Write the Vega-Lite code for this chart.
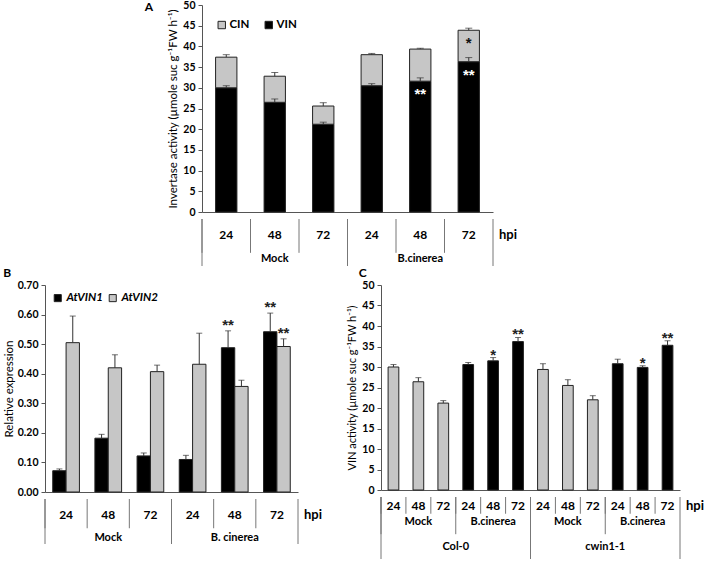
{
  "$schema": "https://vega.github.io/schema/vega-lite/v6.json",
  "padding": {"left": 3, "top": 0, "right": 3, "bottom": 0},
  "background": "white",
  "config": {
    "view": {"stroke": null},
    "font": "Lato",
    "axis": {"grid": false, "labelOverlap": false, "domainColor": "#555", "tickColor": "#555", "labelColor": "#000", "labelFont": "Lato", "labelFontWeight": "bold", "labelFontSize": 10.5, "tickSize": 4, "labelPadding": 3, "titleFont": "Lato", "titleFontWeight": "normal", "titleFontSize": 11.5, "titleColor": "#000", "titlePadding": 4},
    "title": {"font": "Lato", "fontSize": 12, "fontWeight": "bold", "anchor": "start", "color": "#000"},
    "text": {"font": "Lato", "color": "#000"}
  },
  "datasets": {
    "a": [
      {"cond": "Mock 24", "trt": "Mock", "hour": "24", "type": "VIN", "val": 30.0, "err": 0.5, "sig": ""},
      {"cond": "Mock 24", "trt": "Mock", "hour": "24", "type": "CIN", "val": 7.4, "err": 0.6, "sig": ""},
      {"cond": "Mock 48", "trt": "Mock", "hour": "48", "type": "VIN", "val": 26.5, "err": 0.8, "sig": ""},
      {"cond": "Mock 48", "trt": "Mock", "hour": "48", "type": "CIN", "val": 6.3, "err": 0.9, "sig": ""},
      {"cond": "Mock 72", "trt": "Mock", "hour": "72", "type": "VIN", "val": 21.2, "err": 0.5, "sig": ""},
      {"cond": "Mock 72", "trt": "Mock", "hour": "72", "type": "CIN", "val": 4.4, "err": 0.8, "sig": ""},
      {"cond": "B.cinerea 24", "trt": "B.cinerea", "hour": "24", "type": "VIN", "val": 30.5, "err": 0.5, "sig": ""},
      {"cond": "B.cinerea 24", "trt": "B.cinerea", "hour": "24", "type": "CIN", "val": 7.5, "err": 0.3, "sig": ""},
      {"cond": "B.cinerea 48", "trt": "B.cinerea", "hour": "48", "type": "VIN", "val": 31.6, "err": 0.8, "sig": "**"},
      {"cond": "B.cinerea 48", "trt": "B.cinerea", "hour": "48", "type": "CIN", "val": 7.75, "err": 0.2, "sig": ""},
      {"cond": "B.cinerea 72", "trt": "B.cinerea", "hour": "72", "type": "VIN", "val": 36.3, "err": 1.0, "sig": "**"},
      {"cond": "B.cinerea 72", "trt": "B.cinerea", "hour": "72", "type": "CIN", "val": 7.6, "err": 0.5, "sig": "*"}
    ],
    "b": [
      {"cond": "Mock 24", "trt": "Mock", "hour": "24", "gene": "AtVIN1", "val": 0.072, "err": 0.006, "sig": ""},
      {"cond": "Mock 24", "trt": "Mock", "hour": "24", "gene": "AtVIN2", "val": 0.505, "err": 0.09, "sig": ""},
      {"cond": "Mock 48", "trt": "Mock", "hour": "48", "gene": "AtVIN1", "val": 0.182, "err": 0.013, "sig": ""},
      {"cond": "Mock 48", "trt": "Mock", "hour": "48", "gene": "AtVIN2", "val": 0.42, "err": 0.044, "sig": ""},
      {"cond": "Mock 72", "trt": "Mock", "hour": "72", "gene": "AtVIN1", "val": 0.122, "err": 0.01, "sig": ""},
      {"cond": "Mock 72", "trt": "Mock", "hour": "72", "gene": "AtVIN2", "val": 0.407, "err": 0.022, "sig": ""},
      {"cond": "B. cinerea 24", "trt": "B. cinerea", "hour": "24", "gene": "AtVIN1", "val": 0.11, "err": 0.014, "sig": ""},
      {"cond": "B. cinerea 24", "trt": "B. cinerea", "hour": "24", "gene": "AtVIN2", "val": 0.432, "err": 0.105, "sig": ""},
      {"cond": "B. cinerea 48", "trt": "B. cinerea", "hour": "48", "gene": "AtVIN1", "val": 0.488, "err": 0.057, "sig": "**"},
      {"cond": "B. cinerea 48", "trt": "B. cinerea", "hour": "48", "gene": "AtVIN2", "val": 0.357, "err": 0.021, "sig": ""},
      {"cond": "B. cinerea 72", "trt": "B. cinerea", "hour": "72", "gene": "AtVIN1", "val": 0.542, "err": 0.063, "sig": "**"},
      {"cond": "B. cinerea 72", "trt": "B. cinerea", "hour": "72", "gene": "AtVIN2", "val": 0.492, "err": 0.026, "sig": "**"}
    ],
    "c": [
      {"cond": "Col-0 Mock 24", "geno": "Col-0", "trt": "Mock", "hour": "24", "val": 30.0, "err": 0.6, "sig": ""},
      {"cond": "Col-0 Mock 48", "geno": "Col-0", "trt": "Mock", "hour": "48", "val": 26.4, "err": 1.0, "sig": ""},
      {"cond": "Col-0 Mock 72", "geno": "Col-0", "trt": "Mock", "hour": "72", "val": 21.2, "err": 0.6, "sig": ""},
      {"cond": "Col-0 B.cinerea 24", "geno": "Col-0", "trt": "B.cinerea", "hour": "24", "val": 30.6, "err": 0.5, "sig": ""},
      {"cond": "Col-0 B.cinerea 48", "geno": "Col-0", "trt": "B.cinerea", "hour": "48", "val": 31.5, "err": 0.8, "sig": "*"},
      {"cond": "Col-0 B.cinerea 72", "geno": "Col-0", "trt": "B.cinerea", "hour": "72", "val": 36.2, "err": 1.0, "sig": "**"},
      {"cond": "cwin1-1 Mock 24", "geno": "cwin1-1", "trt": "Mock", "hour": "24", "val": 29.4, "err": 1.4, "sig": ""},
      {"cond": "cwin1-1 Mock 48", "geno": "cwin1-1", "trt": "Mock", "hour": "48", "val": 25.5, "err": 1.4, "sig": ""},
      {"cond": "cwin1-1 Mock 72", "geno": "cwin1-1", "trt": "Mock", "hour": "72", "val": 22.0, "err": 1.0, "sig": ""},
      {"cond": "cwin1-1 B.cinerea 24", "geno": "cwin1-1", "trt": "B.cinerea", "hour": "24", "val": 30.8, "err": 1.1, "sig": ""},
      {"cond": "cwin1-1 B.cinerea 48", "geno": "cwin1-1", "trt": "B.cinerea", "hour": "48", "val": 29.9, "err": 0.4, "sig": "*"},
      {"cond": "cwin1-1 B.cinerea 72", "geno": "cwin1-1", "trt": "B.cinerea", "hour": "72", "val": 35.3, "err": 1.1, "sig": "**"}
    ]
  },
  "spacing": 0,
  "resolve": {"scale": {"x": "independent", "y": "independent", "color": "independent", "xOffset": "independent"}},
  "vconcat": [
    {
      "spacing": 0,
      "resolve": {"scale": {"x": "independent", "y": "independent", "color": "independent"}},
      "hconcat": [
        {"width": 99, "height": 10, "data": {"values": []}, "mark": "point"},
        {
          "spacing": 0,
          "resolve": {"scale": {"x": "shared", "y": "independent"}},
          "vconcat": [
            {
              "width": 291, "height": 207,
              "data": {"name": "a"},
              "title": {"text": "A", "offset": -14, "dx": -23},
              "transform": [
                {"stack": "val", "groupby": ["cond"], "sort": [{"field": "type", "order": "descending"}], "as": ["v0", "v1"]},
                {"calculate": "datum.v1 + datum.err", "as": "hi"}
              ],
              "encoding": {"x": {"field": "cond", "type": "nominal", "sort": null, "scale": {"paddingInner": 0, "paddingOuter": 0}, "axis": {"labels": false, "ticks": false, "title": null}}},
              "layer": [
                {
                  "mark": {"type": "bar", "stroke": "#222", "strokeWidth": 1, "width": {"band": 0.44}},
                  "encoding": {
                    "y": {"field": "v0", "type": "quantitative", "scale": {"domain": [0, 50]}, "axis": {"values": [0, 5, 10, 15, 20, 25, 30, 35, 40, 45, 50], "labelOverlap": false, "title": "Invertase activity (µmole suc g⁻¹FW h⁻¹)"}},
                    "y2": {"field": "v1"},
                    "color": {"field": "type", "type": "nominal", "scale": {"domain": ["CIN", "VIN"], "range": ["#c6c6c6", "#000000"]},
                      "legend": {"title": null, "orient": "top-left", "direction": "horizontal", "offset": 14, "padding": 0, "symbolType": "square", "symbolSize": 55, "symbolStrokeColor": "#222", "symbolStrokeWidth": 1, "labelFontSize": 11.5, "labelFontWeight": "bold", "labelFont": "Lato", "labelColor": "#000", "labelOffset": 2, "columnPadding": 13}}
                  }
                },
                {"mark": {"type": "rule", "color": "#333", "strokeWidth": 1}, "encoding": {"y": {"field": "v1", "type": "quantitative", "axis": {"values": [0, 5, 10, 15, 20, 25, 30, 35, 40, 45, 50], "labelOverlap": false, "title": "Invertase activity (µmole suc g⁻¹FW h⁻¹)"}}, "y2": {"field": "hi"}}},
                {"mark": {"type": "tick", "color": "#333", "thickness": 1, "size": 7}, "encoding": {"y": {"field": "hi", "type": "quantitative", "axis": {"values": [0, 5, 10, 15, 20, 25, 30, 35, 40, 45, 50], "labelOverlap": false, "title": "Invertase activity (µmole suc g⁻¹FW h⁻¹)"}}}},
                {
                  "transform": [{"filter": "datum.sig !== ''"}],
                  "mark": {"type": "text", "font": "Liberation Sans", "fontSize": 15, "fontWeight": "bold", "baseline": "middle", "dy": 13},
                  "encoding": {"y": {"field": "v1", "type": "quantitative", "axis": {"values": [0, 5, 10, 15, 20, 25, 30, 35, 40, 45, 50], "labelOverlap": false, "title": "Invertase activity (µmole suc g⁻¹FW h⁻¹)"}}, "text": {"field": "sig"}, "color": {"condition": {"test": "datum.type === 'VIN'", "value": "white"}, "value": "#111"}}
                }
              ]
            },
            {
              "width": 291, "height": 47,
              "data": {"name": "a"},
              "transform": [{"filter": "datum.type === 'VIN'"}],
              "encoding": {"x": {"field": "cond", "type": "nominal", "sort": null, "scale": {"paddingInner": 0, "paddingOuter": 0}, "axis": null}},
              "layer": [
                {"mark": {"type": "rule", "color": "#777"}, "encoding": {"x": {"field": "cond", "type": "nominal", "sort": null, "bandPosition": 0}, "y": {"datum": 0, "type": "quantitative", "scale": {"domain": [0, 1], "reverse": true}, "axis": null}, "y2": {"datum": 0.72}}},
                {"transform": [{"filter": "datum.hour === '24'"}], "mark": {"type": "rule", "color": "#777"}, "encoding": {"x": {"field": "cond", "type": "nominal", "sort": null, "bandPosition": 0}, "y": {"datum": 0, "type": "quantitative"}, "y2": {"datum": 1}}},
                {"transform": [{"filter": "datum.cond === 'B.cinerea 72'"}], "mark": {"type": "rule", "color": "#777"}, "encoding": {"x": {"field": "cond", "type": "nominal", "sort": null, "bandPosition": 1}, "y": {"datum": 0, "type": "quantitative"}, "y2": {"datum": 1}}},
                {"mark": {"type": "text", "fontSize": 12, "fontWeight": "bold", "baseline": "middle"}, "encoding": {"y": {"datum": 0.34, "type": "quantitative"}, "text": {"field": "hour"}}},
                {"transform": [{"filter": "datum.hour === '48'"}], "mark": {"type": "text", "fontSize": 11, "fontWeight": "bold", "baseline": "middle"}, "encoding": {"y": {"datum": 0.86, "type": "quantitative"}, "text": {"field": "trt"}}},
                {"transform": [{"filter": "datum.cond === 'B.cinerea 72'"}], "mark": {"type": "text", "fontSize": 13, "fontWeight": "bold", "baseline": "middle", "align": "left", "dx": 6}, "encoding": {"x": {"field": "cond", "type": "nominal", "sort": null, "bandPosition": 1}, "y": {"datum": 0.34, "type": "quantitative"}, "text": {"value": "hpi"}}}
              ]
            }
          ]
        }
      ]
    },
    {
      "spacing": 23,
      "resolve": {"scale": {"x": "independent", "y": "independent", "color": "independent", "xOffset": "independent"}},
      "hconcat": [
        {
          "spacing": 0,
          "resolve": {"scale": {"x": "shared", "y": "independent"}},
          "vconcat": [
            {
              "width": 253, "height": 207,
              "data": {"name": "b"},
              "title": {"text": "B", "offset": 0},
              "transform": [{"calculate": "datum.val + datum.err", "as": "hi"}],
              "encoding": {
                "x": {"field": "cond", "type": "nominal", "sort": null, "scale": {"paddingInner": 0, "paddingOuter": 0}, "axis": {"labels": false, "ticks": false, "title": null}},
                "xOffset": {"field": "gene", "type": "nominal", "scale": {"paddingOuter": 0.58, "paddingInner": 0}}
              },
              "layer": [
                {
                  "mark": {"type": "bar", "stroke": "#222", "strokeWidth": 1},
                  "encoding": {
                    "y": {"field": "val", "type": "quantitative", "scale": {"domain": [0, 0.7]}, "axis": {"values": [0, 0.1, 0.2, 0.3, 0.4, 0.5, 0.6, 0.7], "labelOverlap": false, "format": ".2f", "title": "Relative expression", "titlePadding": 3}},
                    "color": {"field": "gene", "type": "nominal", "scale": {"domain": ["AtVIN1", "AtVIN2"], "range": ["#000000", "#c6c6c6"]},
                      "legend": {"title": null, "orient": "top-left", "direction": "horizontal", "offset": 7, "padding": 0, "symbolType": "square", "symbolSize": 50, "symbolStrokeColor": "#222", "symbolStrokeWidth": 1, "labelFontSize": 11.5, "labelFontWeight": "bold", "labelFontStyle": "italic", "labelFont": "Lato", "labelColor": "#000", "labelOffset": 3, "columnPadding": 4}}
                  }
                },
                {"mark": {"type": "rule", "color": "#333", "strokeWidth": 1}, "encoding": {"y": {"field": "val", "type": "quantitative", "axis": {"values": [0, 0.1, 0.2, 0.3, 0.4, 0.5, 0.6, 0.7], "labelOverlap": false, "format": ".2f", "title": "Relative expression", "titlePadding": 3}}, "y2": {"field": "hi"}}},
                {"mark": {"type": "tick", "color": "#333", "thickness": 1, "size": 6}, "encoding": {"y": {"field": "hi", "type": "quantitative", "axis": {"values": [0, 0.1, 0.2, 0.3, 0.4, 0.5, 0.6, 0.7], "labelOverlap": false, "format": ".2f", "title": "Relative expression", "titlePadding": 3}}}},
                {
                  "transform": [{"filter": "datum.sig !== ''"}],
                  "mark": {"type": "text", "font": "Liberation Sans", "fontSize": 15, "fontWeight": "bold", "baseline": "bottom", "dy": 2, "color": "#222"},
                  "encoding": {"y": {"field": "hi", "type": "quantitative", "axis": {"values": [0, 0.1, 0.2, 0.3, 0.4, 0.5, 0.6, 0.7], "labelOverlap": false, "format": ".2f", "title": "Relative expression", "titlePadding": 3}}, "text": {"field": "sig"}}
                }
              ]
            },
            {
              "width": 253, "height": 45,
              "data": {"name": "b"},
              "transform": [{"filter": "datum.gene === 'AtVIN1'"}],
              "encoding": {"x": {"field": "cond", "type": "nominal", "sort": null, "scale": {"paddingInner": 0, "paddingOuter": 0}, "axis": null}},
              "layer": [
                {"mark": {"type": "rule", "color": "#777"}, "encoding": {"x": {"field": "cond", "type": "nominal", "sort": null, "bandPosition": 0}, "y": {"datum": 0, "type": "quantitative", "scale": {"domain": [0, 1], "reverse": true}, "axis": null}, "y2": {"datum": 0.65}}},
                {"transform": [{"filter": "datum.hour === '24'"}], "mark": {"type": "rule", "color": "#777"}, "encoding": {"x": {"field": "cond", "type": "nominal", "sort": null, "bandPosition": 0}, "y": {"datum": 0, "type": "quantitative"}, "y2": {"datum": 1}}},
                {"transform": [{"filter": "datum.cond === 'B. cinerea 72'"}], "mark": {"type": "rule", "color": "#777"}, "encoding": {"x": {"field": "cond", "type": "nominal", "sort": null, "bandPosition": 1}, "y": {"datum": 0, "type": "quantitative"}, "y2": {"datum": 1}}},
                {"mark": {"type": "text", "fontSize": 12, "fontWeight": "bold", "baseline": "middle"}, "encoding": {"y": {"datum": 0.35, "type": "quantitative"}, "text": {"field": "hour"}}},
                {"transform": [{"filter": "datum.hour === '48'"}], "mark": {"type": "text", "fontSize": 11, "fontWeight": "bold", "baseline": "middle"}, "encoding": {"y": {"datum": 0.86, "type": "quantitative"}, "text": {"field": "trt"}}},
                {"transform": [{"filter": "datum.cond === 'B. cinerea 72'"}], "mark": {"type": "text", "fontSize": 13, "fontWeight": "bold", "baseline": "middle", "align": "left", "dx": 6}, "encoding": {"x": {"field": "cond", "type": "nominal", "sort": null, "bandPosition": 1}, "y": {"datum": 0.35, "type": "quantitative"}, "text": {"value": "hpi"}}}
              ]
            }
          ]
        },
        {
          "spacing": 0,
          "resolve": {"scale": {"x": "shared", "y": "independent"}},
          "vconcat": [
            {
              "width": 299, "height": 205,
              "data": {"name": "c"},
              "title": {"text": "C", "offset": 0, "dx": 12},
              "transform": [{"calculate": "datum.val + datum.err", "as": "hi"}],
              "encoding": {"x": {"field": "cond", "type": "nominal", "sort": null, "scale": {"paddingInner": 0, "paddingOuter": 0}, "axis": {"labels": false, "ticks": false, "title": null}}},
              "layer": [
                {
                  "mark": {"type": "bar", "stroke": "#222", "strokeWidth": 1, "width": {"band": 0.43}},
                  "encoding": {
                    "y": {"field": "val", "type": "quantitative", "scale": {"domain": [0, 50]}, "axis": {"values": [0, 5, 10, 15, 20, 25, 30, 35, 40, 45, 50], "labelOverlap": false, "title": "VIN activity (µmole suc g⁻¹FW h⁻¹)", "titleFontSize": 11}},
                    "color": {"field": "trt", "type": "nominal", "scale": {"domain": ["Mock", "B.cinerea"], "range": ["#c6c6c6", "#000000"]}, "legend": null}
                  }
                },
                {"mark": {"type": "rule", "color": "#333", "strokeWidth": 1}, "encoding": {"y": {"field": "val", "type": "quantitative", "axis": {"values": [0, 5, 10, 15, 20, 25, 30, 35, 40, 45, 50], "labelOverlap": false, "title": "VIN activity (µmole suc g⁻¹FW h⁻¹)", "titleFontSize": 11}}, "y2": {"field": "hi"}}},
                {"mark": {"type": "tick", "color": "#333", "thickness": 1, "size": 6}, "encoding": {"y": {"field": "hi", "type": "quantitative", "axis": {"values": [0, 5, 10, 15, 20, 25, 30, 35, 40, 45, 50], "labelOverlap": false, "title": "VIN activity (µmole suc g⁻¹FW h⁻¹)", "titleFontSize": 11}}}},
                {
                  "transform": [{"filter": "datum.sig !== ''"}],
                  "mark": {"type": "text", "font": "Liberation Sans", "fontSize": 15, "fontWeight": "bold", "baseline": "bottom", "dy": 5, "color": "#222"},
                  "encoding": {"y": {"field": "hi", "type": "quantitative", "axis": {"values": [0, 5, 10, 15, 20, 25, 30, 35, 40, 45, 50], "labelOverlap": false, "title": "VIN activity (µmole suc g⁻¹FW h⁻¹)", "titleFontSize": 11}}, "text": {"field": "sig"}}
                }
              ]
            },
            {
              "width": 299, "height": 62,
              "data": {"name": "c"},
              "encoding": {"x": {"field": "cond", "type": "nominal", "sort": null, "scale": {"paddingInner": 0, "paddingOuter": 0}, "axis": null}},
              "layer": [
                {"mark": {"type": "rule", "color": "#777"}, "encoding": {"x": {"field": "cond", "type": "nominal", "sort": null, "bandPosition": 0}, "y": {"datum": 0, "type": "quantitative", "scale": {"domain": [0, 1], "reverse": true}, "axis": null}, "y2": {"datum": 0.27}}},
                {"transform": [{"filter": "datum.hour === '24'"}], "mark": {"type": "rule", "color": "#777"}, "encoding": {"x": {"field": "cond", "type": "nominal", "sort": null, "bandPosition": 0}, "y": {"datum": 0, "type": "quantitative"}, "y2": {"datum": 0.6}}},
                {"transform": [{"filter": "datum.hour === '24' && datum.trt === 'Mock'"}], "mark": {"type": "rule", "color": "#777"}, "encoding": {"x": {"field": "cond", "type": "nominal", "sort": null, "bandPosition": 0}, "y": {"datum": 0, "type": "quantitative"}, "y2": {"datum": 1}}},
                {"transform": [{"filter": "datum.cond === 'cwin1-1 B.cinerea 72'"}], "mark": {"type": "rule", "color": "#777"}, "encoding": {"x": {"field": "cond", "type": "nominal", "sort": null, "bandPosition": 1}, "y": {"datum": 0, "type": "quantitative"}, "y2": {"datum": 1}}},
                {"mark": {"type": "text", "fontSize": 12, "fontWeight": "bold", "baseline": "middle"}, "encoding": {"y": {"datum": 0.14, "type": "quantitative"}, "text": {"field": "hour"}}},
                {"transform": [{"filter": "datum.hour === '48'"}], "mark": {"type": "text", "fontSize": 11, "fontWeight": "bold", "baseline": "middle"}, "encoding": {"y": {"datum": 0.41, "type": "quantitative"}, "text": {"field": "trt"}}},
                {"transform": [{"filter": "datum.hour === '24' && datum.trt === 'B.cinerea'"}], "mark": {"type": "text", "fontSize": 11, "fontWeight": "bold", "baseline": "middle"}, "encoding": {"x": {"field": "cond", "type": "nominal", "sort": null, "bandPosition": 0}, "y": {"datum": 0.8, "type": "quantitative"}, "text": {"field": "geno"}}},
                {"transform": [{"filter": "datum.cond === 'cwin1-1 B.cinerea 72'"}], "mark": {"type": "text", "fontSize": 13, "fontWeight": "bold", "baseline": "middle", "align": "left", "dx": 6}, "encoding": {"x": {"field": "cond", "type": "nominal", "sort": null, "bandPosition": 1}, "y": {"datum": 0.14, "type": "quantitative"}, "text": {"value": "hpi"}}}
              ]
            }
          ]
        }
      ]
    }
  ]
}
